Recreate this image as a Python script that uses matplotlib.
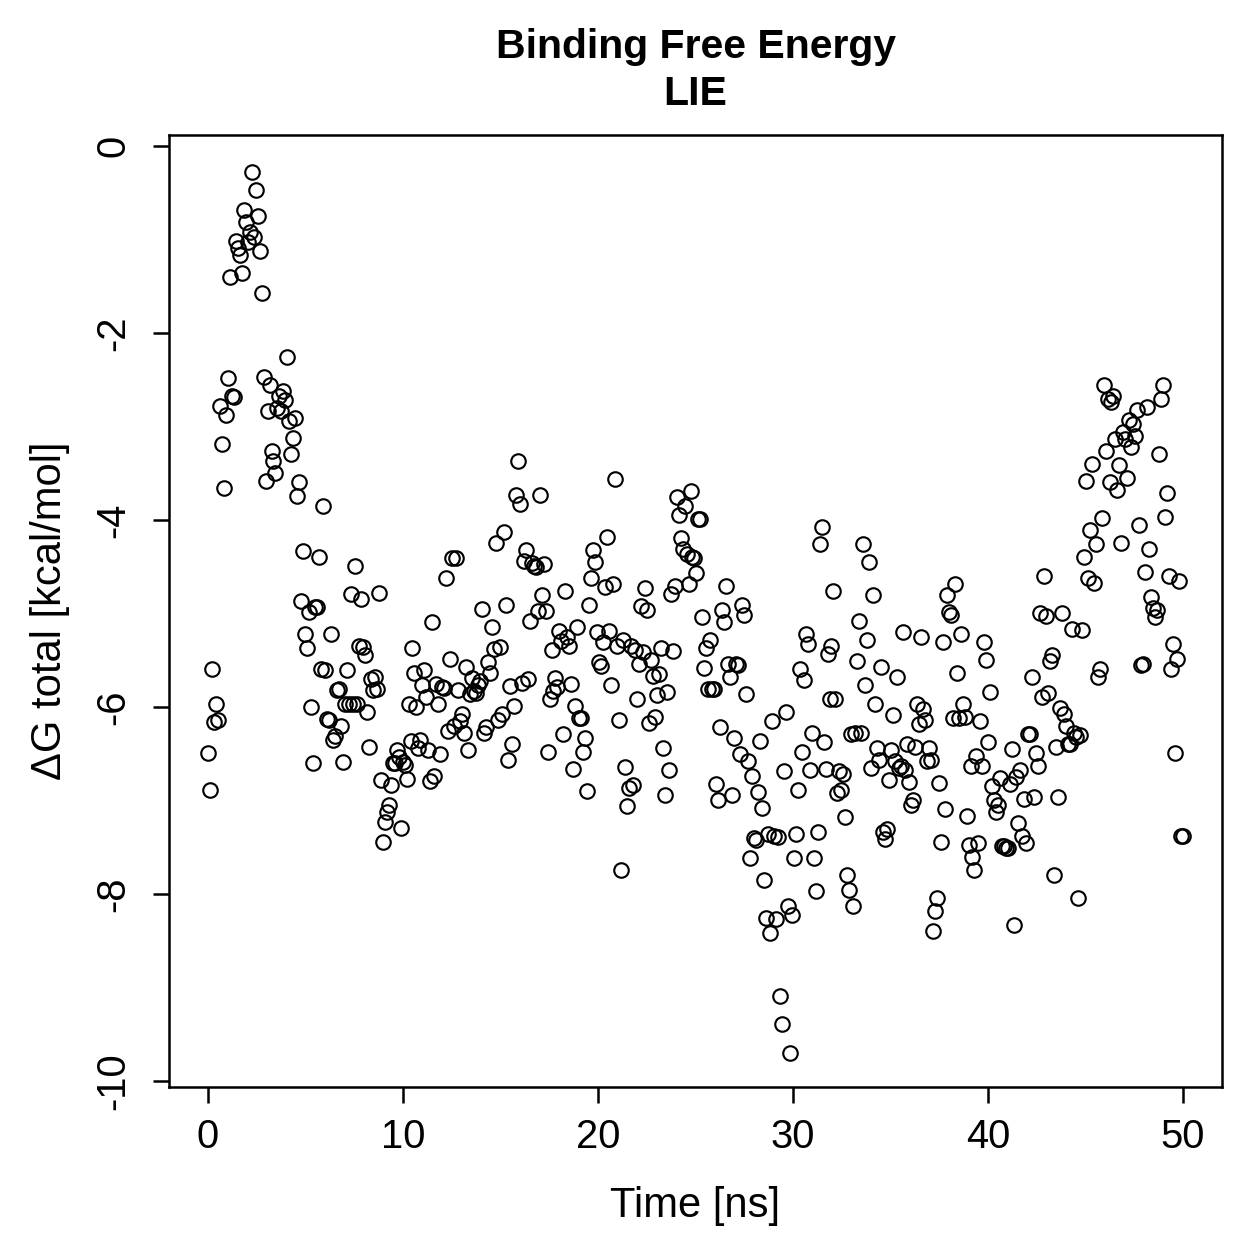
import numpy as np
import matplotlib
matplotlib.use("Agg")
import matplotlib.pyplot as plt

plt.rcParams['font.family'] = ['Liberation Sans', 'DejaVu Sans']

# LIE binding free energy per frame (kcal/mol), frames evenly spaced over 0-50 ns
dg_total = [
    -6.49, -6.88, -5.59, -6.16, -5.97, -6.14, -2.78, -3.19, -3.66, -2.88, -2.48, -1.40, -2.67, -2.68,
    -1.02, -1.09, -1.17, -1.36, -0.68, -0.81, -1.03, -0.92, -0.28, -0.97, -0.47, -0.75, -1.12, -1.57,
    -2.47, -3.58, -2.83, -2.56, -3.26, -3.37, -3.50, -2.80, -2.67, -2.83, -2.62, -2.72, -2.26, -2.94,
    -3.29, -3.12, -2.91, -3.74, -3.59, -4.86, -4.33, -5.22, -5.37, -4.98,
    -6.00, -6.60, -4.93, -4.93, -4.39, -5.59, -3.85, -5.60, -6.13, -6.14, -5.22, -6.35, -6.31, -5.82,
    -5.80, -6.20, -6.59, -5.97, -5.60, -5.96, -4.79, -5.96, -4.49, -5.96, -5.35, -4.84, -5.36, -5.44,
    -6.05, -6.43, -5.70, -5.82, -5.68, -5.81, -4.78, -6.78, -7.44, -7.23, -7.12, -7.04, -6.83, -6.60,
    -6.60, -6.46, -6.53, -7.29, -6.59, -6.62, -6.77, -5.96, -6.36, -5.37, -5.63, -6.00, -6.44, -6.35,
    -5.76, -5.60, -5.89, -6.46, -6.79, -5.09, -6.74, -5.75, -5.97, -6.50, -5.78, -5.79, -4.62, -6.25,
    -5.48, -4.40, -6.20, -4.40, -5.82, -6.15, -6.07, -6.27, -5.57, -6.46, -5.86, -5.69, -5.83, -5.85,
    -5.76, -5.72, -4.95, -6.28, -6.21, -5.52, -5.63, -5.14, -5.38, -4.24, -6.14, -5.36, -6.07, -4.13,
    -4.91, -6.56, -5.77, -6.39, -5.99, -3.73, -3.37, -3.83, -5.74, -4.44, -4.32, -5.70, -5.08, -4.46,
    -4.49, -4.50, -4.97, -3.73, -4.80, -4.47, -4.97, -6.48, -5.91, -5.39, -5.83, -5.69, -5.78, -5.19,
    -5.29, -6.29, -4.76, -5.25, -5.34, -5.75, -6.66, -5.99, -5.14, -6.12, -6.11, -6.48, -6.33, -6.90,
    -4.91, -4.62, -4.32, -4.45, -5.20, -5.52, -5.56, -5.30, -4.71, -4.18, -5.18, -5.76, -4.68, -3.56,
    -5.35, -6.14, -7.74, -5.28, -6.64, -7.06, -6.86, -5.35, -6.83, -5.39, -5.91, -5.54, -4.92, -5.41,
    -4.72, -4.96, -6.17, -5.49, -5.67, -6.10, -5.87, -5.64, -5.37, -6.44, -6.94, -5.84, -6.67, -4.79,
    -5.40, -4.70, -3.75, -3.94, -4.19, -4.31, -3.85, -4.36, -4.68, -3.69, -4.39, -4.40, -4.57, -3.99,
    -3.99, -5.03, -5.58, -5.37, -5.80, -5.28, -5.80, -5.80, -6.82, -6.99, -6.21, -4.96, -5.09, -4.70,
    -5.54, -5.68, -6.94, -6.33, -5.54, -5.55, -6.50, -4.91, -5.01, -5.86, -6.58, -7.61, -6.74, -7.40,
    -7.42, -6.91, -6.36, -7.08, -7.85, -8.25, -7.36, -8.41, -6.15, -7.38, -8.26, -7.39, -9.09, -9.39,
    -6.68, -6.05, -8.13, -9.70, -8.22, -7.61, -7.36, -6.89, -5.59, -6.48, -5.71, -5.22, -5.32, -6.67,
    -6.28, -7.61, -7.96, -7.33, -4.26, -4.07, -6.37, -6.66, -5.43, -5.91, -5.35, -4.76, -5.91, -6.92,
    -6.68, -6.89, -6.71, -7.17, -7.79, -7.95, -6.29, -8.13, -6.28, -5.51, -5.08, -6.27, -4.26, -5.76,
    -5.28, -4.45, -6.65, -4.80, -5.96, -6.44, -6.56, -5.57, -7.33, -7.41, -7.30, -6.78, -6.46, -6.08,
    -6.58, -5.68, -6.65, -6.63, -5.20, -6.67, -6.39, -6.80, -7.04, -6.99, -6.42, -5.96, -6.18, -5.25,
    -6.02, -6.14, -6.57, -6.44, -6.56, -8.39, -8.18, -8.04, -6.81, -7.44, -5.30, -7.09, -4.80, -4.98,
    -5.01, -6.12, -4.68, -5.63, -6.12, -5.22, -5.96, -6.10, -7.16, -7.47, -6.63, -7.60, -7.74, -6.52,
    -7.45, -6.15, -6.63, -5.30, -5.50, -6.37, -5.84, -6.84, -6.99, -7.12, -7.05, -6.76, -7.48, -7.48,
    -7.50, -7.50, -6.82, -6.45, -8.33, -6.75, -7.24, -6.67, -7.38, -6.98, -7.45, -6.29, -6.29, -5.68,
    -6.96, -6.49, -6.63, -4.99, -5.89, -4.60, -5.02, -5.85, -5.51, -5.44, -7.79, -6.42, -6.96, -6.01,
    -4.99, -6.07, -6.20, -6.39, -6.39, -5.16, -6.27, -6.32, -8.04, -6.30, -5.17, -4.39, -3.58, -4.62,
    -4.11, -3.40, -4.67, -4.26, -5.68, -5.59, -3.98, -2.55, -3.26, -2.71, -3.59, -2.74, -2.67, -3.13,
    -3.68, -3.41, -4.24, -3.06, -3.13, -3.55, -2.93, -3.22, -2.97, -3.10, -2.82, -4.05, -5.55, -5.54,
    -4.55, -2.79, -4.31, -4.82, -4.94, -5.04, -4.96, -3.29, -2.70, -2.55, -3.97, -3.71, -4.60, -5.59,
    -5.32, -6.49, -5.48, -4.65, -7.38, -7.38,
]
time_ns = np.linspace(0, 50, len(dg_total))

x_ticks = [0, 10, 20, 30, 40, 50]
y_ticks = [0, -2, -4, -6, -8, -10]

fig = plt.figure(figsize=(1259 / 180, 1259 / 180), dpi=180)
ax = fig.add_axes([0.1342, 0.1366, 0.9706 - 0.1342, 0.8928 - 0.1366])

ax.plot(time_ns, dg_total, linestyle='none', marker='o', markersize=5.8,
        markerfacecolor='none', markeredgecolor='black', markeredgewidth=0.85)

ax.set_xlim(-2, 52)
ax.set_ylim(-10.06, 0.118)
ax.set_xticks(x_ticks)
ax.set_yticks(y_ticks)
ax.set_yticklabels([str(v) for v in y_ticks], rotation=90, va='center')
ax.tick_params(direction='out', length=6.5, width=1.0, labelsize=16, color='black')
ax.tick_params(axis='x', pad=6)
ax.tick_params(axis='y', pad=8)
for sp in ax.spines.values():
    sp.set_linewidth(1.0)

ax.set_xlabel('Time [ns]', fontsize=16.7, labelpad=12)
ax.set_ylabel('ΔG total [kcal/mol]', fontsize=16.7, labelpad=10)

fig.text(0.5525, 0.963, 'Binding Free Energy', ha='center', va='center',
         fontsize=16.4, fontweight='bold')
fig.text(0.5525, 0.925, 'LIE', ha='center', va='center',
         fontsize=16.4, fontweight='bold')

fig.savefig('out.png', dpi=180)
